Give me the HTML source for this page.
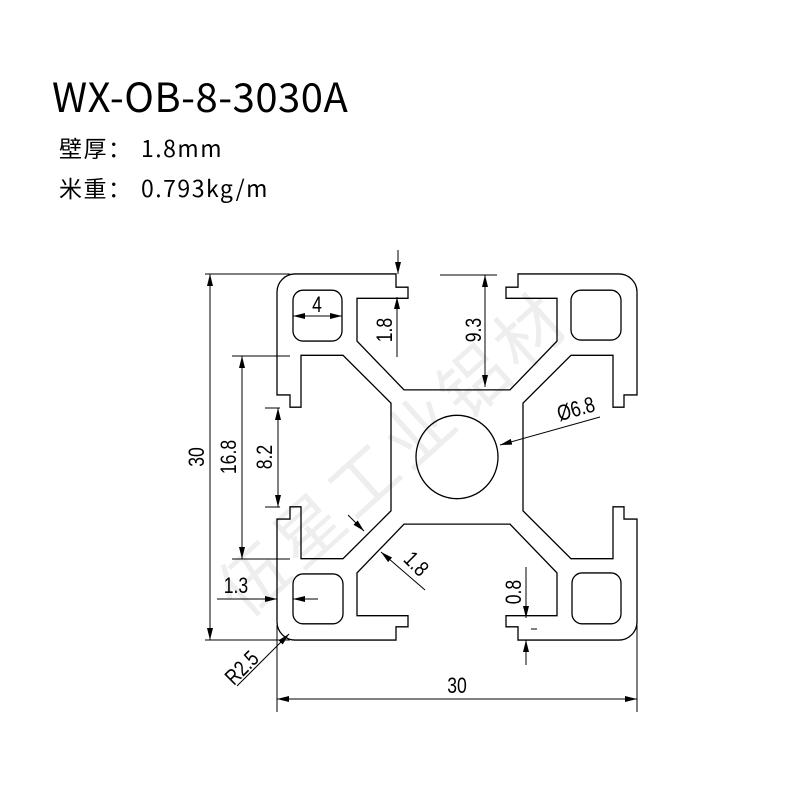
<!DOCTYPE html>
<html><head><meta charset="utf-8"><style>
html,body{margin:0;padding:0;background:#fff}
body{width:800px;height:800px;position:relative;overflow:hidden;font-family:"Liberation Sans","Noto Sans CJK SC",sans-serif}
</style></head><body>
<svg width="800" height="800" viewBox="0 0 800 800" xmlns="http://www.w3.org/2000/svg">
<defs>
<marker id="a" viewBox="0 0 12 6" refX="12" refY="3" markerWidth="12" markerHeight="6" markerUnits="userSpaceOnUse" orient="auto-start-reverse"><path d="M0,0L12,3L0,6Z" fill="#000"/></marker>
<g id="side">
<path d="M-162,-180 L-61,-180 L-61,-167 L-49,-167 L-49,-156 L-100,-156 L-100,-114 L-53,-66 L53,-66 L100,-114 L100,-156 L49,-156 L49,-167 L61,-167 L61,-180 L162,-180 A18,18 0 0 1 180,-162" fill="none" stroke="#000" stroke-width="1.3"/>
<rect x="-164" y="-164" width="49" height="50" rx="10" fill="none" stroke="#000" stroke-width="1.3"/>
</g>
</defs>
<text x="52" y="112" font-size="40" font-family="Noto Sans CJK SC, sans-serif" letter-spacing="0.5">WX-OB-8-3030A</text>
<text x="59" y="157" font-size="23" font-family="Noto Sans CJK SC, sans-serif" letter-spacing="1.5"><tspan>壁厚：</tspan><tspan x="141">1.8mm</tspan></text>
<text x="59" y="197" font-size="23" font-family="Noto Sans CJK SC, sans-serif" letter-spacing="1.5"><tspan>米重：</tspan><tspan x="141">0.793kg/m</tspan></text>
<text transform="translate(410,472) rotate(-42)" font-size="68" fill="#eeeeee" text-anchor="middle" letter-spacing="6">伍星工业铝材</text>
<g transform="translate(457,457) scale(1,1.017)">
<use href="#side"/>
<use href="#side" transform="rotate(90)"/>
<use href="#side" transform="rotate(180)"/>
<use href="#side" transform="rotate(270)"/>
<circle cx="0" cy="0" r="41" fill="none" stroke="#000" stroke-width="1.3"/>
</g>
<g stroke="#000" stroke-width="1" fill="none">
<line x1="205" y1="274" x2="290" y2="274"/><line x1="205" y1="640" x2="290" y2="640"/>
<line x1="210" y1="274" x2="210" y2="640" marker-start="url(#a)" marker-end="url(#a)"/>
<line x1="232" y1="356" x2="290" y2="356"/><line x1="232" y1="559" x2="290" y2="559"/>
<line x1="242" y1="356" x2="242" y2="559" marker-start="url(#a)" marker-end="url(#a)"/>
<line x1="265" y1="408" x2="280" y2="408"/><line x1="265" y1="507" x2="280" y2="507"/>
<line x1="278" y1="408" x2="278" y2="507" marker-start="url(#a)" marker-end="url(#a)"/>
<line x1="217" y1="599" x2="277" y2="599" marker-end="url(#a)"/>
<line x1="318" y1="599" x2="293" y2="599" marker-end="url(#a)"/>
<line x1="237" y1="686" x2="289" y2="634" marker-end="url(#a)"/>
<line x1="277" y1="625" x2="277" y2="712"/><line x1="637" y1="625" x2="637" y2="712"/>
<line x1="277" y1="699" x2="637" y2="699" marker-start="url(#a)" marker-end="url(#a)"/>
<line x1="293" y1="316" x2="342" y2="316" marker-start="url(#a)" marker-end="url(#a)"/>
<line x1="398" y1="250" x2="398" y2="274" marker-end="url(#a)"/>
<line x1="397" y1="357" x2="397" y2="297" marker-end="url(#a)"/>
<line x1="440" y1="275" x2="497" y2="275"/>
<line x1="485" y1="275" x2="485" y2="387" marker-start="url(#a)" marker-end="url(#a)"/>
<line x1="600" y1="417" x2="500" y2="445" marker-end="url(#a)"/>
<line x1="425" y1="590" x2="381" y2="552" marker-end="url(#a)"/>
<line x1="348" y1="515" x2="364" y2="531" marker-end="url(#a)"/>
<line x1="526" y1="567" x2="526" y2="618" marker-end="url(#a)"/>
<line x1="526" y1="665" x2="526" y2="640" marker-end="url(#a)"/>
<line x1="531" y1="629" x2="537" y2="629"/>
</g>
<g font-size="22" font-family="Liberation Sans Narrow, Liberation Sans, sans-serif" fill="#000">
<text transform="translate(204,457) rotate(-90) scale(0.8,1)" text-anchor="middle">30</text>
<text transform="translate(236,457) rotate(-90) scale(0.8,1)" text-anchor="middle">16.8</text>
<text transform="translate(272,457) rotate(-90) scale(0.8,1)" text-anchor="middle">8.2</text>
<text transform="translate(236,593) scale(0.8,1)" text-anchor="middle">1.3</text>
<text transform="translate(247,673) rotate(-45) scale(0.8,1)" text-anchor="middle">R2.5</text>
<text transform="translate(457,693) scale(0.8,1)" text-anchor="middle">30</text>
<text transform="translate(317,312) scale(0.8,1)" text-anchor="middle">4</text>
<text transform="translate(392,330) rotate(-90) scale(0.8,1)" text-anchor="middle">1.8</text>
<text transform="translate(481,330) rotate(-90) scale(0.8,1)" text-anchor="middle">9.3</text>
<text transform="translate(578,416) rotate(-16) scale(0.8,1)" text-anchor="middle">Ø6.8</text>
<text transform="translate(411,569) rotate(45) scale(0.8,1)" text-anchor="middle">1.8</text>
<text transform="translate(521,592) rotate(-90) scale(0.8,1)" text-anchor="middle">0.8</text>
</g>
</svg>
</body></html>
